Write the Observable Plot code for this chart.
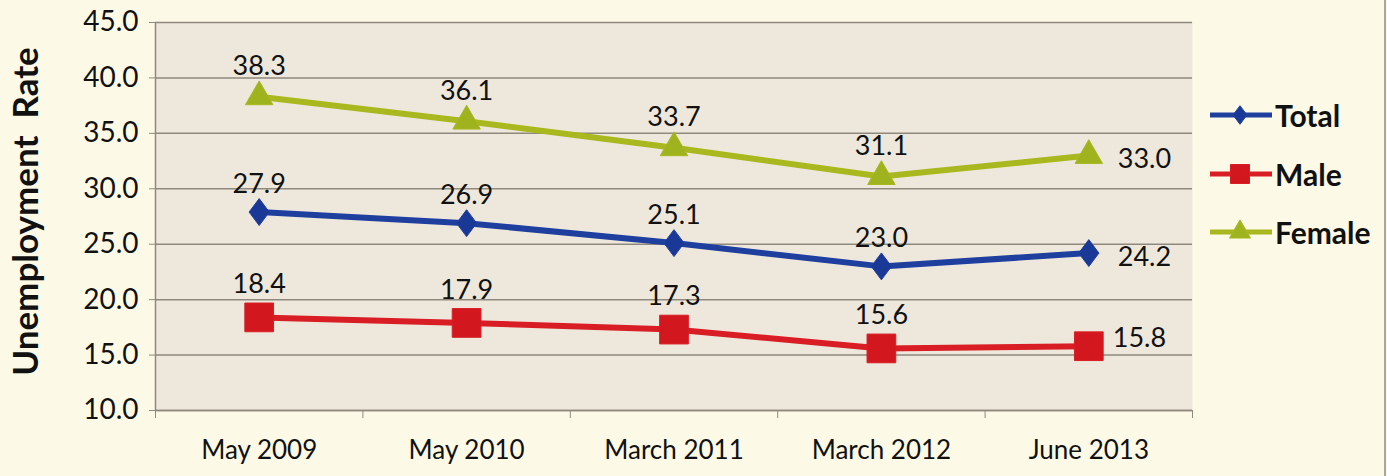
<!DOCTYPE html>
<html>
<head>
<meta charset="utf-8">
<script src="https://cdn.jsdelivr.net/npm/d3@7"></script>
<script src="https://cdn.jsdelivr.net/npm/@observablehq/plot@0.6"></script>
<style>
  html, body { margin: 0; padding: 0; background: #fcfae7; }
  #wrap { position: relative; width: 1387px; height: 476px; overflow: hidden; background: #fcfae7; }
  #wrap::after { content: ""; position: absolute; right: 1px; top: 0; bottom: 0; border-right: 2px solid #a9a79c; }
  #legend { position: absolute; left: 1208px; top: 86px; font-family: Lato, "Open Sans", sans-serif; font-weight: bold; font-size: 30px; color: #111; }
  .item { display: flex; align-items: center; height: 58.5px; }
  .item svg { margin-right: 3px; }
</style>
</head>
<body>
<div id="wrap"></div>
<script>
const categories = ["May 2009", "May 2010", "March 2011", "March 2012", "June 2013"];
const total  = [27.9, 26.9, 25.1, 23.0, 24.2];
const male   = [18.4, 17.9, 17.3, 15.6, 15.8];
const female = [38.3, 36.1, 33.7, 31.1, 33.0];
const yTicks = [10, 15, 20, 25, 30, 35, 40, 45];
const seriesNames = ["Total", "Male", "Female"];
const seriesColors = {Total: "#1f3f9f", Male: "#d91d24", Female: "#a8b81e"};
const markerFill = {Total: "#1a3896", Male: "#d3171e", Female: "#9fb31f"};

// Excel-like tall diamond (width/height = 0.75)
const tallDiamond = {
  draw(ctx, size) {
    const a = Math.sqrt(size * 0.75 / 2), b = a / 0.75;
    ctx.moveTo(0, -b); ctx.lineTo(a, 0); ctx.lineTo(0, b); ctx.lineTo(-a, 0); ctx.closePath();
  }
};
const symbols = {Total: tallDiamond, Male: d3.symbolSquare, Female: d3.symbolTriangle};
const radius = {Total: 9.3, Male: 16.2, Female: 10.2};
const labelDy = {Total: -28, Male: -33, Female: -30};

const seriesValues = {Total: total, Male: male, Female: female};
const rows = [];
for (const s of seriesNames) {
  seriesValues[s].forEach((v, i) => rows.push({series: s, i, cat: categories[i], value: v, last: i === categories.length - 1}));
}
const idx = categories.map((_, i) => i);
const bounds = [-0.5, ...idx.map(i => i + 0.5)];

const font = "Lato, 'Open Sans', sans-serif";
const labelMarks = seriesNames.map(s => Plot.text(rows.filter(d => d.series === s && !d.last), {
  x: "i", y: "value", text: d => d.value.toFixed(1), dy: labelDy[s], fontSize: 27, fill: "#111"
}));
const chart = Plot.plot({
  width: 1387,
  height: 476,
  marginTop: 22,
  marginBottom: 66,
  marginLeft: 155,
  marginRight: 195,
  style: {fontFamily: font, fontSize: "26px", color: "#111", background: "transparent"},
  x: {type: "linear", domain: [-0.5, categories.length - 0.5]},
  y: {domain: [10, 45]},
  marks: [
    Plot.frame({fill: "#eee8dc", stroke: null}),
    Plot.gridY(yTicks, {stroke: "#8e897c", strokeOpacity: 1, strokeWidth: 1.5}),
    Plot.ruleX([-0.5], {stroke: "#8e897c", strokeWidth: 1.5}),
    Plot.ruleY([10], {stroke: "#8e897c", strokeWidth: 1.5}),
    Plot.axisY({ticks: yTicks, tickFormat: d => d.toFixed(1), tickSize: 6, tickPadding: 11, label: null, stroke: "#8e897c", fontSize: 28}),
    Plot.axisX({ticks: bounds, tickFormat: () => "", tickSize: 8, stroke: "#8e897c", label: null}),
    Plot.axisX({ticks: idx, tickFormat: i => categories[i], tickSize: 0, tickPadding: 30, label: null, fontSize: 26}),
    Plot.text(["Unemployment  Rate"], {text: d => d, frameAnchor: "left", textAnchor: "middle", rotate: -90, dx: -129, dy: -5, fontWeight: "bold", fontSize: 35, fill: "#111"}),
    Plot.line(rows, {x: "i", y: "value", z: "series", stroke: d => seriesColors[d.series], strokeWidth: 6}),
    Plot.dot(rows, {x: "i", y: "value", symbol: d => symbols[d.series], r: d => radius[d.series], fill: d => markerFill[d.series], stroke: d => seriesColors[d.series], strokeWidth: 1}),
    ...labelMarks,
    Plot.text(rows.filter(d => d.last && d.series !== "Male"), {x: "i", y: "value", text: d => d.value.toFixed(1), dx: 29, dy: 4, textAnchor: "start", fontSize: 27, fill: "#111"}),
    Plot.text(rows.filter(d => d.last && d.series === "Male"), {x: "i", y: "value", text: d => d.value.toFixed(1), dx: 24, dy: -8, textAnchor: "start", fontSize: 27, fill: "#111"})
  ],
  r: {type: "identity"},
  symbol: {type: "identity"}
});
const wrap = document.getElementById("wrap");
wrap.appendChild(chart);

// legend
const legend = document.createElement("div");
legend.id = "legend";
const legendSym = {Total: tallDiamond, Male: d3.symbolSquare, Female: d3.symbolTriangle};
const legendSize = {Total: 130, Male: 360, Female: 190};
for (const s of seriesNames) {
  const item = document.createElement("div");
  item.className = "item";
  const sw = d3.create("svg").attr("width", 64).attr("height", 30);
  sw.append("line").attr("x1", 2).attr("x2", 64).attr("y1", 15).attr("y2", 15).attr("stroke", seriesColors[s]).attr("stroke-width", 5);
  sw.append("path").attr("d", d3.symbol(legendSym[s], legendSize[s])()).attr("transform", "translate(32,15)").attr("fill", markerFill[s]).attr("stroke", seriesColors[s]);
  item.appendChild(sw.node());
  const label = document.createElement("span");
  label.textContent = s;
  item.appendChild(label);
  legend.appendChild(item);
}
wrap.appendChild(legend);
</script>
</body>
</html>
